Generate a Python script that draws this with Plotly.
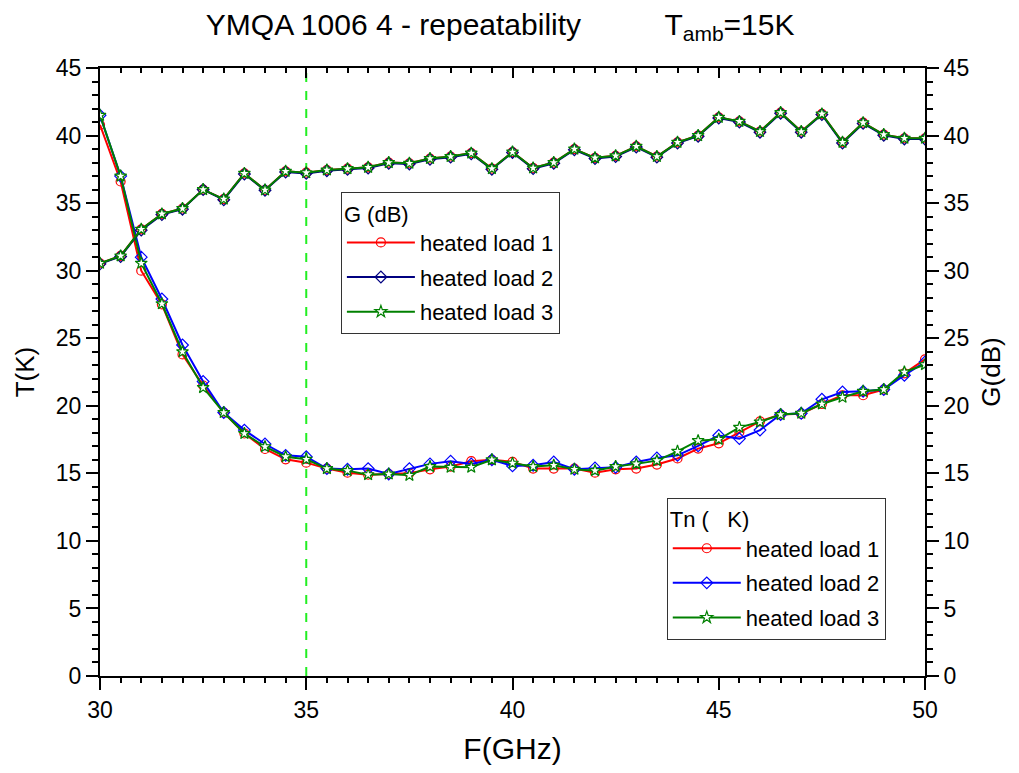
import plotly.graph_objects as go

freq = [30 + 0.5 * i for i in range(41)]

g_load1 = [30.55, 31.09, 33.06, 34.2, 34.6, 36.0, 35.3, 37.2, 35.97, 37.35, 37.25, 37.45, 37.55, 37.65, 38.0, 37.95,
           38.3, 38.45, 38.7, 37.55, 38.78, 37.6, 38.0, 39.0, 38.35, 38.5, 39.2, 38.45, 39.5, 40.0, 41.35, 41.05,
           40.3, 41.7, 40.3, 41.6, 39.5, 40.95, 40.07, 39.8, 39.8]
g_load2 = [30.5, 31.05, 33.0, 34.15, 34.55, 36.0, 35.25, 37.15, 35.95, 37.3, 37.2, 37.4, 37.5, 37.6, 37.95, 37.9,
           38.25, 38.4, 38.65, 37.5, 38.75, 37.55, 37.95, 38.95, 38.3, 38.45, 39.15, 38.4, 39.45, 39.95, 41.3, 41.0,
           40.25, 41.65, 40.25, 41.55, 39.45, 40.9, 40.02, 39.75, 39.75]
g_load3 = [30.55, 31.09, 33.06, 34.2, 34.6, 36.0, 35.3, 37.2, 35.97, 37.35, 37.25, 37.45, 37.55, 37.65, 38.0, 37.95,
           38.3, 38.45, 38.7, 37.55, 38.78, 37.6, 38.0, 39.0, 38.35, 38.5, 39.2, 38.45, 39.5, 40.0, 41.35, 41.05,
           40.3, 41.7, 40.3, 41.6, 39.5, 40.95, 40.07, 39.8, 39.8]

tn_load1 = [40.8, 36.6, 30.0, 27.5, 23.8, 21.5, 19.5, 17.95, 16.8, 16.04, 15.79, 15.35, 15.05, 14.9, 14.95, 15.0,
            15.3, 15.5, 15.9, 16.0, 15.85, 15.35, 15.35, 15.35, 15.05, 15.3, 15.35, 15.65, 16.1, 16.83, 17.22, 18.06,
            18.85, 19.35, 19.4, 20.13, 20.77, 20.78, 21.2, 22.4, 23.44]
tn_load2 = [41.5, 37.0, 31.0, 27.9, 24.5, 21.8, 19.5, 18.2, 17.17, 16.33, 16.23, 15.35, 15.3, 15.35, 14.95, 15.35,
            15.7, 15.9, 15.7, 16.0, 15.55, 15.6, 15.84, 15.3, 15.4, 15.45, 15.84, 16.14, 16.33, 17.03, 17.8, 17.57,
            18.2, 19.35, 19.45, 20.48, 21.02, 21.07, 21.2, 22.26, 23.24]
tn_load3 = [41.5, 37.0, 30.55, 27.55, 24.0, 21.35, 19.5, 17.95, 16.97, 16.23, 16.04, 15.35, 15.2, 14.9, 14.95, 14.85,
            15.5, 15.45, 15.45, 16.0, 15.75, 15.5, 15.6, 15.3, 15.2, 15.5, 15.7, 15.94, 16.63, 17.42, 17.52, 18.4,
            18.8, 19.35, 19.45, 20.13, 20.63, 21.07, 21.2, 22.5, 23.04]

series_names = ["heated load 1", "heated load 2", "heated load 3"]
symbols = ["circle-open", "diamond-open", "star"]
g_colors = ["#FF0000", "#000080", "#008000"]
tn_colors = ["#FF0000", "#0000FF", "#008000"]

FONT = "Liberation Sans, Arial, sans-serif"

fig = go.Figure()

for i, (name, vals, col, sym) in enumerate(zip(series_names, [tn_load1, tn_load2, tn_load3], tn_colors, symbols)):
    fig.add_trace(go.Scatter(
        x=freq, y=vals, name=name, mode="lines+markers", legend="legend2", legendgroup="tn%d" % i,
        line=dict(color=col, width=2),
        marker=dict(symbol=sym, size=9, color="white" if sym == "star" else col,
                    line=dict(color=col, width=1.2)),
        xaxis="x", yaxis="y"))

for i, (name, vals, col, sym) in enumerate(zip(series_names, [g_load1, g_load2, g_load3], g_colors, symbols)):
    fig.add_trace(go.Scatter(
        x=freq, y=vals, name=name, mode="lines+markers", legend="legend", legendgroup="g%d" % i,
        line=dict(color=col, width=2),
        marker=dict(symbol=sym, size=9, color="white" if sym == "star" else col,
                    line=dict(color=col, width=1.2)),
        xaxis="x2", yaxis="y2"))

axis_common = dict(showgrid=False, zeroline=False, showline=True, linecolor="black", linewidth=2,
                   tickcolor="black", tickwidth=2, tickfont=dict(size=23, color="black", family=FONT))

fig.update_layout(
    width=1019, height=773,
    paper_bgcolor="white", plot_bgcolor="white",
    margin=dict(l=92, r=102, t=60, b=105),
    font=dict(family=FONT, color="black"),
    title=dict(text="YMQA 1006 4 - repeatability" + "\u00a0" * 10 + "T<sub>amb</sub>=15K",
               x=0.483, xanchor="center", y=1 - 16 / 773, yanchor="middle",
               font=dict(size=30, family=FONT, color="black")),
    xaxis=dict(range=[30, 50], tickmode="linear", tick0=30, dtick=5, ticks="outside", ticklen=12,
               minor=dict(dtick=0.5, ticks="outside", ticklen=5, tickcolor="black", tickwidth=2),
               title=dict(text="F(GHz)", font=dict(size=30, family=FONT, color="black"), standoff=16),
               anchor="y", **axis_common),
    yaxis=dict(range=[0, 45], tickmode="linear", tick0=0, dtick=5, ticks="outside", ticklen=12,
               minor=dict(dtick=1, ticks="outside", ticklen=6, tickcolor="black", tickwidth=2),
               title=dict(text="T(K)", font=dict(size=26, family=FONT, color="black"), standoff=14),
               anchor="x", **axis_common),
    xaxis2=dict(range=[30, 50], tickmode="linear", tick0=30, dtick=5, ticks="inside", ticklen=10,
                minor=dict(dtick=0.5, ticks="inside", ticklen=5, tickcolor="black", tickwidth=2),
                showticklabels=False, overlaying="x", side="top", anchor="y2", **axis_common),
    yaxis2=dict(range=[0, 45], tickmode="linear", tick0=0, dtick=5, ticks="outside", ticklen=12,
                minor=dict(dtick=1, ticks="outside", ticklen=6, tickcolor="black", tickwidth=2),
                title=dict(text="G(dB)", font=dict(size=26, family=FONT, color="black"), standoff=14),
                overlaying="y", side="right", anchor="x2", **axis_common),
    legend=dict(x=0.292, y=0.796, xanchor="left", yanchor="top", xref="paper", yref="paper",
                bgcolor="white", bordercolor="#333333", borderwidth=1, itemwidth=68,
                font=dict(size=22, family=FONT, color="black"), tracegroupgap=3, traceorder="grouped",
                title=dict(text="G (dB)", font=dict(size=22, family=FONT, color="black"))),
    legend2=dict(x=0.687, y=0.293, xanchor="left", yanchor="top", xref="paper", yref="paper",
                 bgcolor="white", bordercolor="#333333", borderwidth=1, itemwidth=68,
                 font=dict(size=22, family=FONT, color="black"), tracegroupgap=3, traceorder="grouped",
                 title=dict(text="Tn (\u00a0\u00a0\u00a0K)", font=dict(size=22, family=FONT, color="black"))),
    shapes=[dict(type="line", xref="x", yref="paper", x0=35, x1=35, y0=0, y1=1,
                 line=dict(color="#22EE22", width=2, dash="dash"), layer="below")],
    showlegend=True,
)

fig.write_html("out.html")
